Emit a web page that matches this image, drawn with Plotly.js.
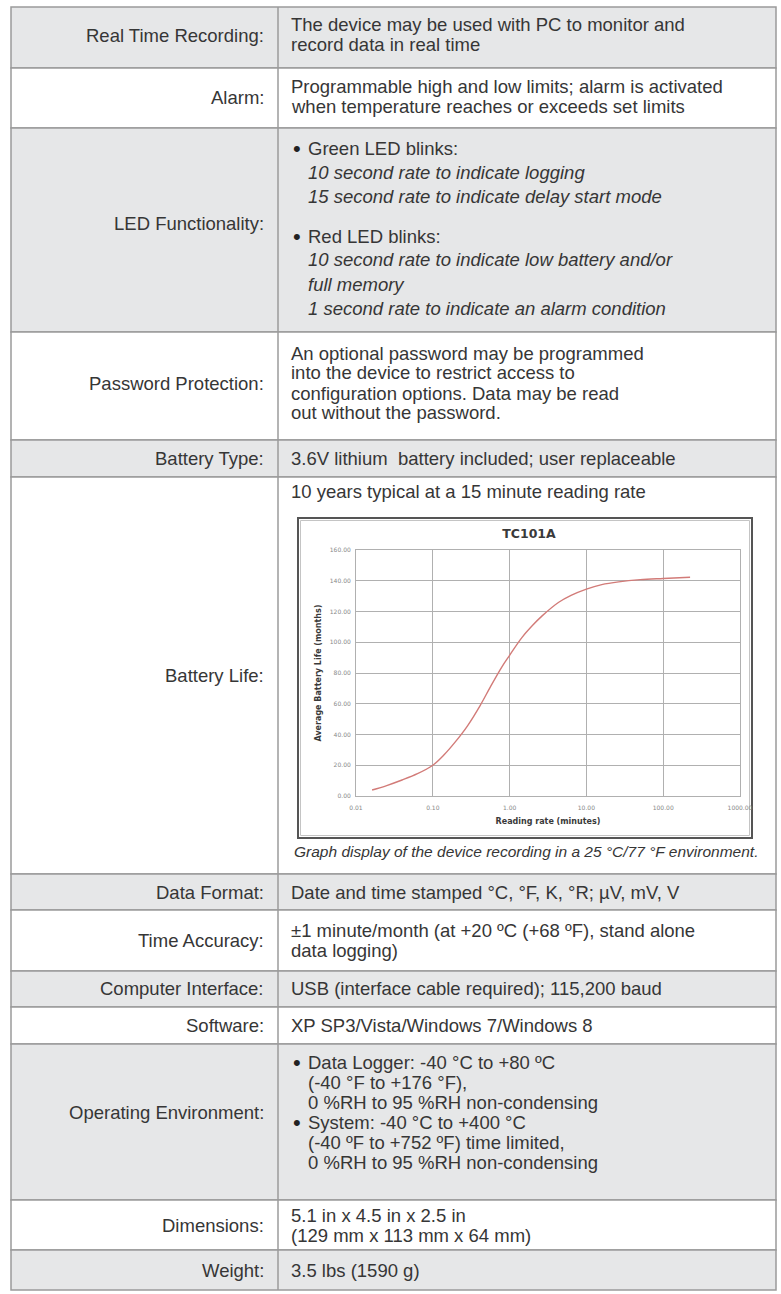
<!DOCTYPE html>
<html>
<head>
<meta charset="utf-8">
<script src="https://cdn.plot.ly/plotly-3.0.1.min.js"></script>
<style>
html,body{margin:0;padding:0;background:#fff;}
#chart{width:781px;height:1294px;}
</style>
</head>
<body>
<div id="chart"></div>
<script>
// ---- chart data (TC101A battery life curve) ----
const readingRate = [0.0162, 0.0251, 0.0398, 0.0631, 0.1, 0.1413, 0.1963, 0.2818, 0.415, 0.5623, 0.7943, 1.0, 1.445, 1.995, 2.63, 4.365, 6.31, 10, 15.85, 26.3, 50.12, 100, 223.9];
const batteryLife = [3.9, 6.8, 10.4, 14.5, 20, 27, 35.2, 45.5, 59, 71, 84, 91.5, 103, 111, 117, 126, 130.5, 134.6, 137.5, 139.3, 140.7, 141.5, 142.3];
const xTickVals = [0.01, 0.1, 1, 10, 100, 1000];
const xTickText = ["0.01", "0.10", "1.00", "10.00", "100.00", "1000.00"];
const yTickVals = [0, 20, 40, 60, 80, 100, 120, 140, 160];
const yTickText = ["0.00", "20.00", "40.00", "60.00", "80.00", "100.00", "120.00", "140.00", "160.00"];
const chartTitle = "TC101A";
const xTitle = "Reading rate (minutes)";
const yTitle = "Average Battery Life (months)";

// ---- table text ----
const rowLabels = ["Real Time Recording:", "Alarm:", "LED Functionality:", "Password Protection:", "Battery Type:", "Battery Life:", "Data Format:", "Time Accuracy:", "Computer Interface:", "Software:", "Operating Environment:", "Dimensions:", "Weight:"];
const rowEdges = [7, 68, 128, 332, 440, 477, 874, 910, 971, 1007, 1044, 1200, 1250, 1290];
const labelY = [35, 97, 223, 384, 459, 675, 892, 940, 989, 1025, 1112, 1225, 1270];
// [text, x, y, style]  style: n normal, i italic, b bullet
const valueLines = [
  ["The device may be used with PC to monitor and", 289, 25, "n"],
  ["record data in real time", 289, 45, "n"],
  ["Programmable high and low limits; alarm is activated", 289, 87, "n"],
  ["when temperature reaches or exceeds set limits", 289, 107, "n"],
  ["•", 291, 148, "b"],
  ["Green LED blinks:", 306, 148, "n"],
  ["10 second rate to indicate logging", 306, 172, "i"],
  ["15 second rate to indicate delay start mode", 306, 196, "i"],
  ["•", 291, 236, "b"],
  ["Red LED blinks:", 306, 236, "n"],
  ["10 second rate to indicate low battery and/or", 306, 260, "i"],
  ["full memory", 306, 284, "i"],
  ["1 second rate to indicate an alarm condition", 306, 308, "i"],
  ["An optional password may be programmed", 289, 353, "n"],
  ["into the device to restrict access to", 289, 373, "n"],
  ["configuration options. Data may be read", 289, 393, "n"],
  ["out without the password.", 289, 413, "n"],
  ["3.6V lithium  battery included; user replaceable", 289, 459, "n"],
  ["10 years typical at a 15 minute reading rate", 289, 491, "n"],
  ["Date and time stamped °C, °F, K, °R; µV, mV, V", 289, 892, "n"],
  ["±1 minute/month (at +20 ºC (+68 ºF), stand alone", 289, 930, "n"],
  ["data logging)", 289, 950, "n"],
  ["USB (interface cable required); 115,200 baud", 289, 989, "n"],
  ["XP SP3/Vista/Windows 7/Windows 8", 289, 1025, "n"],
  ["•", 291, 1062, "b"],
  ["Data Logger: -40 °C to +80 ºC", 306, 1062, "n"],
  ["(-40 °F to +176 °F),", 306, 1082, "n"],
  ["0 %RH to 95 %RH non-condensing", 306, 1102, "n"],
  ["•", 291, 1122, "b"],
  ["System: -40 °C to +400 °C", 306, 1122, "n"],
  ["(-40 ºF to +752 ºF) time limited,", 306, 1142, "n"],
  ["0 %RH to 95 %RH non-condensing", 306, 1162, "n"],
  ["5.1 in x 4.5 in x 2.5 in", 289, 1215, "n"],
  ["(129 mm x 113 mm x 64 mm)", 289, 1235, "n"],
  ["3.5 lbs (1590 g)", 289, 1270, "n"]
];
const caption = "Graph display of the device recording in a 25 °C/77 °F environment.";

const W = 781, H = 1294;
const X = px => px / W;
const Y = py => 1 - py / H;
const FONT = "Liberation Sans, Arial, Helvetica, sans-serif";
const TXT = "#363636";
const FS = 18.5;

const shapes = [];
for (let i = 0; i < rowLabels.length; i++) {
  shapes.push({type: "rect", xref: "paper", yref: "paper", layer: "below",
    x0: X(11), x1: X(776), y0: Y(rowEdges[i + 1]), y1: Y(rowEdges[i]),
    fillcolor: i % 2 === 0 ? "#e6e7e8" : "#ffffff",
    line: {color: "#9b9b9b", width: 1.5}});
}
shapes.push({type: "line", xref: "paper", yref: "paper", layer: "below",
  x0: X(278), x1: X(278), y0: Y(rowEdges[rowEdges.length - 1]), y1: Y(rowEdges[0]),
  line: {color: "#9b9b9b", width: 1.5}});
// chart picture frame
shapes.push({type: "rect", xref: "paper", yref: "paper", layer: "below",
  x0: X(298), x1: X(752), y0: Y(838), y1: Y(518),
  fillcolor: "#ffffff", line: {color: "#555555", width: 2}});
shapes.push({type: "rect", xref: "paper", yref: "paper", layer: "below",
  x0: X(300.5), x1: X(749.5), y0: Y(835.5), y1: Y(520.5),
  fillcolor: "rgba(0,0,0,0)", line: {color: "#c4c4c4", width: 1}});

const annotations = [];
rowLabels.forEach((t, i) => {
  annotations.push({text: t, xref: "paper", yref: "paper", x: X(266), y: Y(labelY[i]),
    xanchor: "right", yanchor: "middle", showarrow: false,
    font: {family: FONT, size: FS, color: TXT}});
});
valueLines.forEach(([t, x, y, s]) => {
  annotations.push({text: s === "i" ? "<i>" + t + "</i>" : t, xref: "paper", yref: "paper",
    x: X(x), y: Y(y), xanchor: "left", yanchor: "middle", showarrow: false,
    font: {family: FONT, size: s === "b" ? 22 : FS, color: s === "b" ? "#222222" : TXT}});
});
annotations.push({text: "<i>" + caption + "</i>", xref: "paper", yref: "paper",
  x: X(526), y: Y(851), xanchor: "center", yanchor: "middle", showarrow: false,
  font: {family: FONT, size: 15.5, color: TXT}});

const trace = {
  type: "scatter", mode: "lines", x: readingRate, y: batteryLife,
  line: {color: "#d27b78", width: 1.4, shape: "spline", smoothing: 1},
  hoverinfo: "skip", showlegend: false
};

const tickF = {family: "DejaVu Sans, sans-serif", size: 6, color: "#888888"};
const titleF = {family: "DejaVu Sans, sans-serif", size: 8, color: "#3a3a3a"};
const layout = {
  width: W, height: H, autosize: false,
  margin: {l: 0, r: 0, t: 0, b: 0, pad: 0},
  paper_bgcolor: "#ffffff", plot_bgcolor: "rgba(0,0,0,0)",
  showlegend: false,
  title: {text: "<b>" + chartTitle + "</b>", x: X(529), y: Y(534), xref: "paper", yref: "paper",
    xanchor: "center", yanchor: "middle", font: {family: "DejaVu Sans, sans-serif", size: 12.5, color: "#3a3a3a"}},
  xaxis: {type: "log", range: [-2, 3], domain: [X(356), X(740)], anchor: "y",
    tickvals: xTickVals, ticktext: xTickText, ticks: "outside", ticklen: 6, tickcolor: "rgba(0,0,0,0)",
    showgrid: true, gridcolor: "#b0b0b0", gridwidth: 1, zeroline: false,
    showline: true, linecolor: "#b0b0b0", linewidth: 1, mirror: true,
    tickfont: tickF, automargin: false,
    title: {text: "<b>" + xTitle + "</b>", standoff: 8, font: titleF}},
  yaxis: {range: [0, 160], domain: [Y(796), Y(550)], anchor: "x",
    tickvals: yTickVals, ticktext: yTickText, ticks: "outside", ticklen: 3, tickcolor: "rgba(0,0,0,0)",
    showgrid: true, gridcolor: "#b0b0b0", gridwidth: 1, zeroline: false,
    showline: true, linecolor: "#b0b0b0", linewidth: 1, mirror: true,
    tickfont: tickF, automargin: false,
    title: {text: "<b>" + yTitle + "</b>", standoff: 6, font: titleF}},
  shapes: shapes,
  annotations: annotations
};

Plotly.newPlot("chart", [trace], layout, {staticPlot: true, displayModeBar: false});
</script>
</body>
</html>
